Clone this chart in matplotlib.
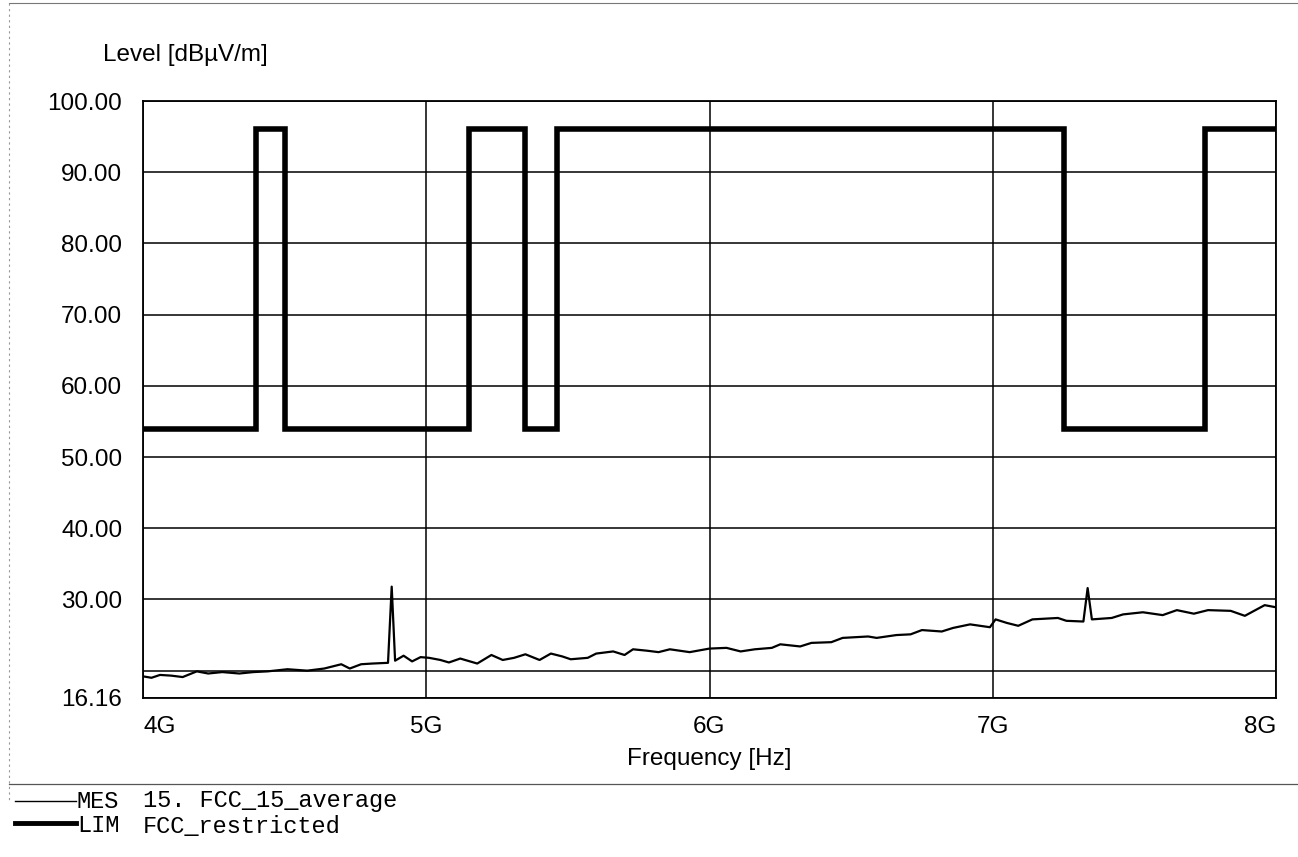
import matplotlib
matplotlib.use("Agg")
import matplotlib.pyplot as plt
from matplotlib.lines import Line2D

# ---- data (GHz, dBuV/m) ----
meas_freq = [4.00, 4.03, 4.06, 4.10, 4.14, 4.19, 4.23, 4.28, 4.34, 4.39, 4.44, 4.51,
             4.58, 4.64, 4.70, 4.73, 4.77, 4.81, 4.865, 4.878, 4.89, 4.92, 4.95, 4.98,
             5.01, 5.05, 5.08, 5.12, 5.18, 5.23, 5.27, 5.31, 5.35, 5.40, 5.44, 5.48,
             5.51, 5.57, 5.60, 5.66, 5.70, 5.73, 5.78, 5.82, 5.86, 5.93, 6.00, 6.06,
             6.11, 6.16, 6.22, 6.25, 6.32, 6.36, 6.43, 6.47, 6.56, 6.59, 6.66, 6.71,
             6.75, 6.82, 6.86, 6.92, 6.99, 7.01, 7.05, 7.09, 7.14, 7.23, 7.26, 7.32,
             7.335, 7.35, 7.42, 7.46, 7.53, 7.60, 7.65, 7.71, 7.76, 7.84, 7.89, 7.96, 8.00]
meas_level = [19.2, 19.0, 19.4, 19.3, 19.1, 19.9, 19.6, 19.8, 19.6, 19.8, 19.9, 20.2,
              20.0, 20.3, 20.9, 20.3, 20.9, 21.0, 21.1, 31.8, 21.4, 22.1, 21.3, 21.9,
              21.8, 21.5, 21.15, 21.7, 21.0, 22.2, 21.5, 21.8, 22.3, 21.5, 22.4, 22.0,
              21.6, 21.8, 22.4, 22.7, 22.2, 23.0, 22.8, 22.6, 23.0, 22.6, 23.1, 23.2,
              22.7, 23.0, 23.2, 23.7, 23.4, 23.9, 24.0, 24.6, 24.8, 24.6, 25.0, 25.1,
              25.7, 25.5, 26.0, 26.5, 26.1, 27.2, 26.7, 26.3, 27.2, 27.4, 27.0, 26.9,
              31.6, 27.2, 27.4, 27.9, 28.2, 27.8, 28.5, 28.0, 28.5, 28.4, 27.7, 29.2, 28.9]

lim_edges = [4.00, 4.40, 4.50, 5.15, 5.35, 5.46, 7.25, 7.75, 8.00]
lim_levels = [54, 96, 54, 96, 54, 96, 54, 96]

y_ticks = [16.16, 20, 30, 40, 50, 60, 70, 80, 90, 100]
y_tick_labels = ["16.16", "", "30.00", "40.00", "50.00", "60.00", "70.00", "80.00", "90.00", "100.00"]
x_ticks = [4, 5, 6, 7, 8]
x_tick_labels = ["4G", "5G", "6G", "7G", "8G"]

plt.rcParams['font.family'] = ['Liberation Sans', 'DejaVu Sans']

W, H = 1298, 857
fig = plt.figure(figsize=(W / 100, H / 100), dpi=100)
ax = fig.add_axes([143 / W, 1 - 698 / H, (1276 - 143) / W, (698 - 101) / H])

ax.set_xlim(4, 8)
ax.set_ylim(16.16, 100)

ax.set_yticks(y_ticks)
ax.set_yticklabels(y_tick_labels)
ax.set_xticks(x_ticks)
ax.set_xticklabels(x_tick_labels)
for lbl, ha in zip(ax.get_xticklabels(), ["left", "center", "center", "center", "right"]):
    lbl.set_ha(ha)
ax.tick_params(axis='both', length=0, labelsize=17.5, colors='black')
ax.tick_params(axis='y', pad=15)
ax.tick_params(axis='x', pad=13)
ax.grid(True, color='black', linewidth=1.1)
ax.set_axisbelow(True)
for s in ax.spines.values():
    s.set_linewidth(1.3)
    s.set_color('black')

ax.stairs(lim_levels, lim_edges, color='black', linewidth=4.0, baseline=None, zorder=3)
ax.plot(meas_freq, meas_level, color='black', linewidth=1.6, zorder=4)

ax.set_xlabel("Frequency [Hz]", fontsize=17.5, labelpad=7)
fig.text(103 / W, 1 - 55 / H, "Level [dBµV/m]", fontsize=17.5, ha='left', va='center')

# frame lines of the printout
fig.add_artist(Line2D([9 / W, 1], [1 - 3 / H, 1 - 3 / H], color='#777777', linewidth=0.8))
fig.add_artist(Line2D([9 / W, 9 / W], [1 - 3 / H, 1 - 800 / H], color='#999999', linewidth=0.8, linestyle=(0, (2, 3))))
fig.add_artist(Line2D([9 / W, 1], [1 - 784 / H, 1 - 784 / H], color='#555555', linewidth=0.9))

# legend
mono = ['Liberation Mono', 'DejaVu Sans Mono']
row1, row2 = 801, 826
fig.add_artist(Line2D([15 / W, 76 / W], [1 - row1 / H, 1 - row1 / H], color='black', linewidth=1.0))
fig.add_artist(Line2D([15 / W, 76 / W], [1 - (row2 - 3) / H, 1 - (row2 - 3) / H], color='black', linewidth=3.5))
fig.text(77 / W, 1 - row1 / H, "MES", family=mono, fontsize=17, ha='left', va='center')
fig.text(143 / W, 1 - row1 / H, "15. FCC_15_average", family=mono, fontsize=17, ha='left', va='center')
fig.text(77 / W, 1 - row2 / H, "LIM", family=mono, fontsize=17, ha='left', va='center')
fig.text(143 / W, 1 - row2 / H, "FCC_restricted", family=mono, fontsize=17, ha='left', va='center')

fig.savefig("out.png", dpi=100, facecolor='white')
